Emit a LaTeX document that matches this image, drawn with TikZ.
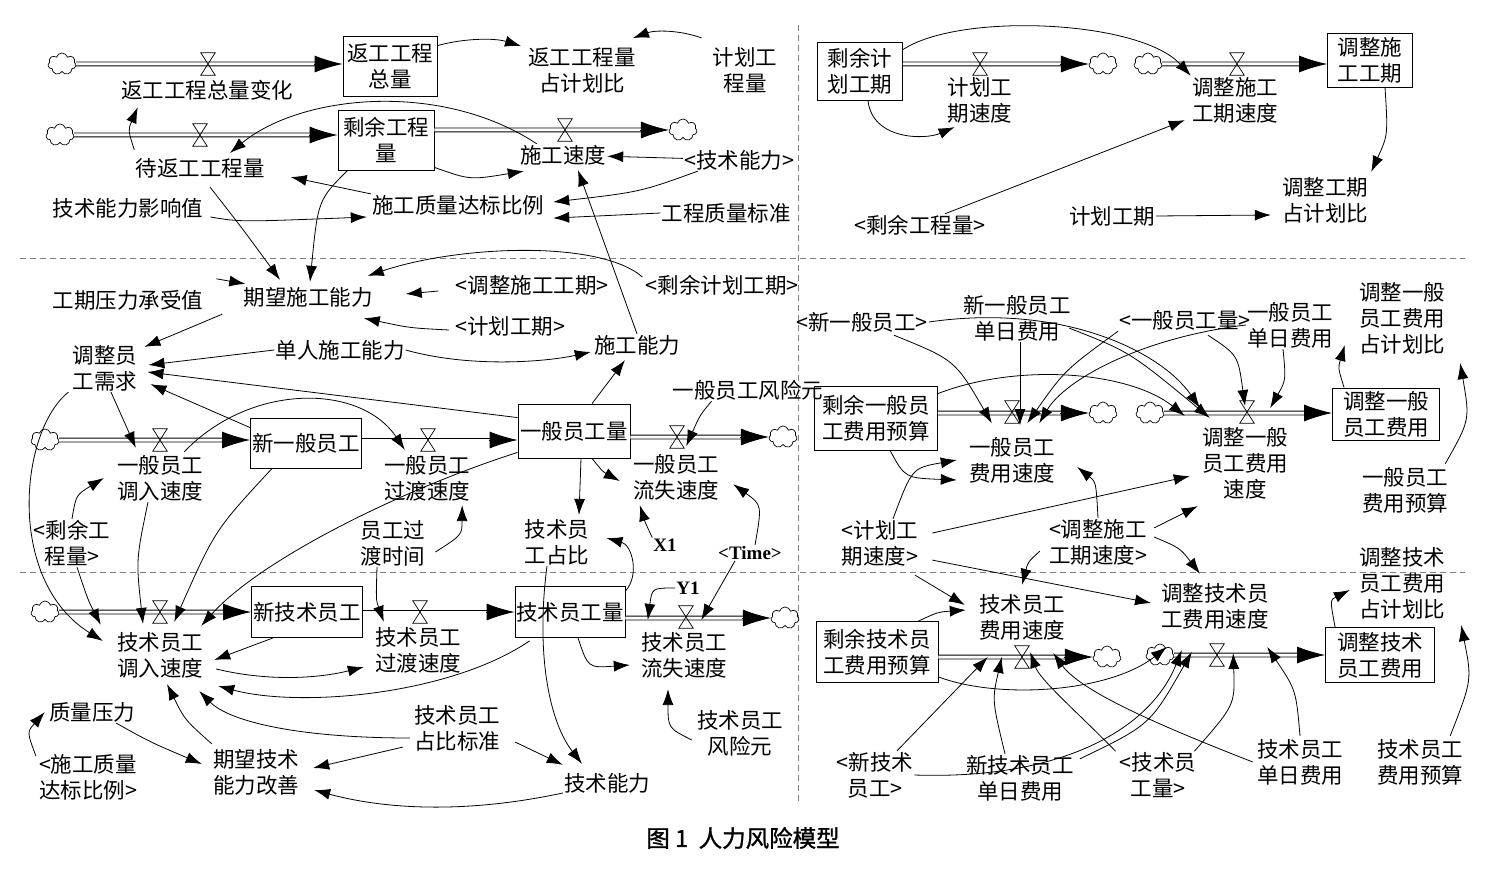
\documentclass[tikz,border=0pt]{standalone}
\usepackage{fontspec}
\setmainfont{Noto Sans CJK SC}
\newfontfamily\latfont{Liberation Serif}
\newfontfamily\capfont[FakeBold=1.2]{Noto Sans CJK SC}
\usetikzlibrary{arrows.meta,shapes.symbols,calc}
\newcommand{\mkvalve}[3]{\node[valve] (#1) at (#2,#3) {}; \draw[line width=0.7pt] (#1.north west) -- (#1.north east) -- (#1.south west) -- (#1.south east) -- cycle;}
\newcommand{\mkflow}[3]{\coordinate (#1a) at #2; \coordinate (#1b) at #3; \draw[pipe, shorten >=18pt] (#1a) -- (#1b); \draw[ptip] ($(#1b)+(-28.5,0)$) -- (#1b);}
\begin{document}
\begin{tikzpicture}[x=1pt,y=-1pt,
 var/.style={font=\fontsize{21.5}{26}\selectfont, align=center, inner sep=1pt},
 stock/.style={draw, line width=0.8pt, font=\fontsize{21.5}{26}\selectfont, align=center, inner sep=0pt},
 latn/.style={font=\latfont\bfseries\fontsize{19}{22}\selectfont, inner sep=1pt},
 cloudn/.style={cloud, draw, cloud puffs=7, aspect=1.3, minimum width=28pt, minimum height=22pt, inner sep=0pt, line width=0.7pt},
 valve/.style={minimum width=14pt, minimum height=22pt, inner sep=0pt},
 pipe/.style={double, double distance=3pt, line width=0.9pt},
 ptip/.style={-{Latex[length=28pt,width=17pt]}, line width=0.9pt},
 link/.style={-{Latex[length=16pt,width=11pt]}, line width=0.8pt},
 divider/.style={gray, dash pattern=on 6pt off 4pt, line width=0.8pt}
]
\useasboundingbox (0,0) rectangle (1500,869);
% dividers
\draw[divider] (20,258) -- (1465,258);
\draw[divider] (20,572) -- (1465,572);
\draw[divider] (798,25) -- (798,805);

% ---------- top-left
\node[cloudn] (c1) at (62,64) {};
\node[stock, minimum width=94pt, minimum height=60pt] (FG) at (390,66) {返工工程\\总量};
\node[var] (l1) at (207,90) {返工工程总量变化};
\node[cloudn] (c2) at (60,135) {};
\node[stock, minimum width=96pt, minimum height=60pt] (SY) at (386,140) {剩余工程\\量};
\node[var] (l2) at (200,168) {待返工工程量};
\node[cloudn] (c3) at (683,130) {};
\node[var] (l3) at (563,155) {施工速度};
\node[var] (fgb) at (582,70) {返工工程量\\占计划比};
\node[var] (jhg) at (745,70) {计划工\\程量};
\node[var] (jsn1) at (739,160) {<技术能力>};
\node[var] (zlb) at (458,205) {施工质量达标比例};
\node[var] (gczl) at (726,213) {工程质量标准};
\node[var] (jsyx) at (128,208) {技术能力影响值};

% ---------- top-right
\node[stock, minimum width=85pt, minimum height=58pt] (SJ) at (860,71) {剩余计\\划工期};
\node[var] (l4) at (980,100) {计划工\\期速度};
\node[cloudn] (c4) at (1103,64) {};
\node[cloudn] (c5) at (1148,64) {};
\node[var] (l5) at (1235,100) {调整施工\\工期速度};
\node[stock, minimum width=85pt, minimum height=54pt] (TZ) at (1370,60) {调整施\\工工期};
\node[var] (sygc2) at (920,225) {<剩余工程量>};
\node[var] (tzb) at (1325,200) {调整工期\\占计划比};
\node[var] (jhgq) at (1112,216) {计划工期};

% ---------- mid-left
\node[var] (qw) at (308,297) {期望施工能力};
\node[var] (gqyl) at (128,300) {工期压力承受值};
\node[var] (tzgq) at (532,285) {<调整施工工期>};
\node[var] (sjgq) at (722,285) {<剩余计划工期>};
\node[var] (jhgq2) at (510,326) {<计划工期>};
\node[var] (tzxq) at (105,368) {调整员\\工需求};
\node[var] (drn) at (340,350) {单人施工能力};
\node[var] (sgnl) at (637,345) {施工能力};
\node[cloudn] (c6) at (45,440) {};
\node[var] (l6) at (160,478) {一般员工\\调入速度};
\node[stock, minimum width=111pt, minimum height=50pt] (XY) at (306,443) {新一般员工};
\node[var] (l7) at (427,478) {一般员工\\过渡速度};
\node[stock, minimum width=112pt, minimum height=54pt] (YB) at (574,431) {一般员工量};
\node[var] (l8) at (676,477) {一般员工\\流失速度};
\node[cloudn] (c7) at (783,437) {};
\node[var] (fxy) at (748,390) {一般员工风险元};
\node[var] (sygc3) at (72,543) {<剩余工\\程量>};
\node[var] (jszb) at (557,542) {技术员\\工占比};
\node[latn] (x1) at (665,545) {X1};
\node[latn] (time1) at (750,553) {<Time>};
\node[var] (gdsj) at (393,543) {员工过\\渡时间};

% ---------- bottom-left
\node[cloudn] (c8) at (45,612) {};
\node[var] (l9) at (160,655) {技术员工\\调入速度};
\node[stock, minimum width=111pt, minimum height=51pt] (XJ) at (307,612) {新技术员工};
\node[var] (l10) at (418,650) {技术员工\\过渡速度};
\node[stock, minimum width=110pt, minimum height=51pt] (JS) at (570,612) {技术员工量};
\node[var] (l11) at (684,655) {技术员工\\流失速度};
\node[cloudn] (c9) at (785,618) {};
\node[latn] (y1) at (688,588) {Y1};
\node[var] (jfx) at (740,733) {技术员工\\风险元};
\node[var] (jzbbz) at (457,728) {技术员工\\占比标准};
\node[var] (jsnl) at (607,783) {技术能力};
\node[var] (qwjs) at (256,772) {期望技术\\能力改善};
\node[var] (zlyl) at (92,712) {质量压力};
\node[var] (sgzl2) at (88,777) {<施工质量\\达标比例>};

% ---------- mid-right
\node[var] (xyb) at (862,322) {<新一般员工>};
\node[var] (xyrf) at (1017,318) {新一般员工\\单日费用};
\node[var] (ybl) at (1185,320) {<一般员工量>};
\node[var] (ybrf) at (1290,325) {一般员工\\单日费用};
\node[var] (tzybb) at (1402,318) {调整一般\\员工费用\\占计划比};
\node[stock, minimum width=123pt, minimum height=64pt] (SYB) at (876,418) {剩余一般员\\工费用预算};
\node[var] (l12) at (1012,460) {一般员工\\费用速度};
\node[cloudn] (c10) at (1103,413) {};
\node[cloudn] (c11) at (1150,413) {};
\node[var] (l13) at (1245,463) {调整一般\\员工费用\\速度};
\node[stock, minimum width=107pt, minimum height=52pt] (TYB) at (1386,414) {调整一般\\员工费用};
\node[var] (ybys) at (1405,490) {一般员工\\费用预算};
\node[var] (jhsd) at (880,543) {<计划工\\期速度>};
\node[var] (tzsd) at (1098,542) {<调整施工\\工期速度>};

% ---------- bottom-right
\node[var] (l14) at (1022,617) {技术员工\\费用速度};
\node[stock, minimum width=122pt, minimum height=61pt] (SJB) at (877,652) {剩余技术员\\工费用预算};
\node[cloudn] (c12) at (1107,657) {};
\node[cloudn] (c13) at (1160,655) {};
\node[var] (l15) at (1215,606) {调整技术员\\工费用速度};
\node[stock, minimum width=109pt, minimum height=55pt] (TJB) at (1380,655) {调整技术\\员工费用};
\node[var] (tzjb) at (1402,583) {调整技术\\员工费用\\占计划比};
\node[var] (jsys) at (1420,762) {技术员工\\费用预算};
\node[var] (jsrf) at (1300,762) {技术员工\\单日费用};
\node[var] (xjs) at (875,775) {<新技术\\员工>};
\node[var] (xjrf) at (1020,778) {新技术员工\\单日费用};
\node[var] (jsl) at (1158,775) {<技术员\\工量>};

\node[font=\capfont\fontsize{23.5}{28}\selectfont] (cap) at (743,838) {图 1\ \ 人力风险模型};

% ---------- flows
\mkflow{p1}{(c1.east)}{(FG.west |- c1)}
\mkflow{p2}{(c2.east)}{(SY.west |- c2)}
\mkflow{p3}{(SY.east |- c3)}{(c3.west)}
\mkflow{p4}{(SJ.east |- c4)}{(c4.west)}
\mkflow{p5}{(c5.east)}{(TZ.west |- c5)}
\mkflow{p6}{(c6.east)}{(XY.west |- c6)}
\mkflow{p7}{(XY.east |- c6)}{(YB.west |- c6)}
\mkflow{p8}{(YB.east |- c7)}{(c7.west)}
\mkflow{p9}{(c8.east)}{(XJ.west |- c8)}
\mkflow{p10}{(XJ.east |- c8)}{(JS.west |- c8)}
\mkflow{p11}{(JS.east |- c9)}{(c9.west)}
\mkflow{p12}{(SYB.east |- c10)}{(c10.west)}
\mkflow{p13}{(c11.east)}{(TYB.west |- c11)}
\mkflow{p14}{(SJB.east |- c12)}{(c12.west)}
\mkflow{p15}{(c13.east)}{(TJB.west |- c13)}

% ---------- valves
\mkvalve{v1}{208}{64}
\mkvalve{v2}{200}{135}
\mkvalve{v3}{565}{130}
\mkvalve{v4}{980}{64}
\mkvalve{v5}{1237}{64}
\mkvalve{v6}{160}{440}
\mkvalve{v7}{428}{440}
\mkvalve{v8}{677}{437}
\mkvalve{v9}{160}{612}
\mkvalve{v10}{420}{612}
\mkvalve{v11}{686}{617}
\mkvalve{v12}{1012}{412}
\mkvalve{v13}{1247}{412}
\mkvalve{v14}{1022}{657}
\mkvalve{v15}{1217}{655}

% ---------- links top-left
\draw[link] ($(FG.north east)+(0,10)$) .. controls (465,38) and (495,38) .. ($(fgb.north west)+(-6,0)$);
\draw[link] ($(jhg.north west)+(-10,-8)$) .. controls (680,30) and (655,30) .. ($(fgb.north east)+(-4,-8)$);
\draw[link] ($(l2.north west)+(0,-7)$) .. controls (128,130) .. ($(l1.south west)+(18,6)$);
\draw[link] ($(l3.north west)+(18,0)$) .. controls (440,80) and (300,95) .. ($(l2.north)+(30,-4)$);
\draw[link] ($(SY.south east)+(0,-3)$) .. controls (470,180) .. ($(l3.south west)+(5,5)$);
\draw[link] (jsn1) -- (l3);
\draw[link] ($(jsn1.south west)+(15,0)$) .. controls (640,192) .. ($(zlb.east)+(8,-3)$);
\draw[link] (gczl.west) -- ($(zlb.south east)+(8,2)$);
\draw[link] ($(jsyx.east)+(6,9)$) .. controls (240,222) .. ($(zlb.west)+(-4,12)$);
\draw[link] (zlb.north west) -- ($(l2.south east)+(25,-2)$);
\draw[link] (sgnl.north) -- ($(l3.south)+(15,4)$);
\draw[link] ($(l2.south)+(10,8)$) .. controls (242,228) .. ($(qw.north)+(-28,-6)$);
\draw[link] ($(SY.south west)+(10,0)$) .. controls (318,200) .. ($(qw.north)+(2,-4)$);

% ---------- links top-right
\draw[link] ($(SJ.north east)+(0,8)$) .. controls (960,12) and (1140,20) .. (l5.north west);
\draw[link] ($(SJ.south)+(8,0)$) .. controls (872,140) and (925,140) .. ($(l4.south west)+(8,3)$);
\draw[link] ($(sygc2.north)+(25,0)$) -- ($(l5.south west)+(-6,-4)$);
\draw[link] ($(TZ.south)+(15,0)$) .. controls (1388,135) .. ($(tzb.north east)+(2,-4)$);
\draw[link] (jhgq.east) -- ($(tzb.west)+(-10,15)$);

% ---------- links mid-left
\draw[link] ($(gqyl.north east)+(12,-10)$) -- ($(qw.north west)+(3,-2)$);
\draw[link] ($(tzgq.west)+(-16,6)$) -- ($(qw.east)+(32,-3)$);
\draw[link] ($(sjgq.west)+(-2,-8)$) .. controls (600,240) and (460,245) .. ($(qw.north east)+(-6,-10)$);
\draw[link] ($(jhgq2.west)+(-5,4)$) .. controls (410,328) .. ($(qw.south east)+(-10,10)$);
\draw[link] ($(qw.south west)+(-20,6)$) -- ($(tzxq.north east)+(6,3)$);
\draw[link] (drn.west) -- ($(tzxq.east)+(10,-3)$);
\draw[link] (drn.east) .. controls (470,368) and (545,362) .. ($(sgnl.west)+(-2,7)$);
\draw[link] ($(YB.north)+(18,0)$) -- ($(sgnl.south)+(-12,4)$);
\draw[link] ($(YB.north west)+(0,14)$) -- ($(tzxq.east)+(9,4)$);
\draw[link] ($(XY.north west)+(0,10)$) -- ($(tzxq.south east)+(12,-8)$);
\draw[link] ($(tzxq.south)+(6,0)$) -- ($(l6.north west)+(20,-6)$);
\draw[link] ($(tzxq.south west)+(-3,0)$) .. controls (20,430) and (5,580) .. ($(l9.west)+(-13,-14)$);
\draw[link] ($(l6.north east)+(-20,-2)$) .. controls (250,383) and (360,383) .. ($(l7.north west)+(22,-4)$);
\draw[link] ($(fxy.south west)+(40,0)$) .. controls (700,415) .. ($(v8.south east)+(2,-2)$);
\draw[link] ($(YB.south)+(18,0)$) .. controls (603,472) .. ($(l8.west)+(-12,4)$);
\draw[link] ($(YB.south)+(7,0)$) -- ($(jszb.north)+(22,-3)$);
\draw[link] (x1.north west) .. controls (645,522) .. ($(l8.south west)+(8,4)$);
\draw[link] ($(time1.north)+(5,0)$) .. controls (762,505) .. ($(l8.south east)+(13,-17)$);
\draw[link] ($(gdsj.east)+(9,9)$) .. controls (462,535) .. ($(l7.south east)+(-9,3)$);
\draw[link] (sygc3.north) .. controls (76,495) .. ($(l6.west)+(-12,0)$);
\draw[link] ($(sygc3.south)+(5,0)$) .. controls (88,600) .. ($(l9.north west)+(-15,-6)$);
\draw[link] ($(l6.south)+(-12,0)$) .. controls (136,560) .. ($(l9.north)+(-17,-7)$);
\draw[link] ($(XY.south west)+(22,0)$) .. controls (215,530) .. ($(l9.north east)+(-30,-9)$);
\draw[link] ($(YB.south west)+(0,-6)$) .. controls (400,490) and (260,560) .. ($(l9.north east)+(-3,-5)$);

% ---------- links bottom-left
\draw[link] ($(XJ.south west)+(22,0)$) -- ($(l9.east)+(10,5)$);
\draw[link] ($(l9.east)+(12,14)$) .. controls (270,682) and (320,678) .. ($(l10.west)+(-10,17)$);
\draw[link] ($(JS.south west)+(15,3)$) .. controls (450,695) and (300,708) .. ($(l9.east)+(14,31)$);
\draw[link] ($(jzbbz.west)+(-3,10)$) .. controls (300,738) and (230,722) .. ($(l9.south east)+(-5,12)$);
\draw[link] ($(qwjs.north west)+(0,-4)$) .. controls (185,720) .. ($(l9.south)+(7,5)$);
\draw[link] ($(gdsj.south)+(-16,0)$) .. controls (376,600) .. ($(l10.north west)+(10,-4)$);
\draw[link] (y1.west) .. controls (652,588) .. ($(l11.north west)+(8,-11)$);
\draw[link] ($(time1.south)+(-15,0)$) -- ($(v11.east)+(8,3)$);
\draw[link] ($(JS.south)+(8,0)$) .. controls (588,668) .. ($(l11.west)+(-10,10)$);
\draw[link] ($(jfx.west)+(-4,7)$) .. controls (668,728) .. ($(l11.south)+(-16,10)$);
\draw[link] ($(jzbbz.south west)+(-10,-5)$) -- ($(qwjs.east)+(13,-4)$);
\draw[link] ($(jzbbz.south east)+(14,-10)$) -- ($(jsnl.north west)+(0,-7)$);
\draw[link] ($(jszb.south)+(-10,0)$) .. controls (536,650) and (548,720) .. ($(jsnl.north)+(-25,-8)$);
\draw[link] ($(JS.north east)+(0,5)$) .. controls (640,575) and (632,545) .. ($(jszb.east)+(16,-4)$);
\draw[link] ($(jsnl.west)+(0,10)$) .. controls (460,815) and (380,808) .. ($(qwjs.east)+(14,18)$);
\draw[link] ($(zlyl.south east)+(-20,0)$) .. controls (150,742) .. ($(qwjs.west)+(-10,-8)$);
\draw[link] ($(sgzl2.north west)+(-2,3)$) .. controls (27,732) .. ($(zlyl.west)+(-3,0)$);

% ---------- links mid-right
\draw[link] ($(xyb.south east)+(-35,2)$) .. controls (955,360) .. ($(v12.south west)+(-13,0)$);
\draw[link] ($(xyrf.south)+(3,0)$) -- ($(v12.south)+(8,2)$);
\draw[link] (ybl.south west) .. controls (1065,370) .. ($(v12.south east)+(8,0)$);
\draw[link] (ybrf.west) .. controls (1140,338) and (1065,380) .. ($(v12.south east)+(20,0)$);
\draw[link] (xyb.east) .. controls (1060,303) and (1160,350) .. ($(l13.north west)+(-1,-18)$);
\draw[link] ($(xyrf.east)+(-3,10)$) .. controls (1130,352) .. ($(l13.north west)+(9,-8)$);
\draw[link] ($(SYB.north east)+(0,8)$) .. controls (1020,362) and (1130,372) .. ($(l13.north west)+(-16,-10)$);
\draw[link] ($(ybl.south east)+(-44,4)$) .. controls (1238,355) .. ($(v13.center)+(-2,-6)$);
\draw[link] ($(ybrf.south)+(-7,0)$) .. controls (1286,380) .. ($(v13.east)+(16,-4)$);
\draw[link] ($(jhsd.north)+(13,0)$) .. controls (912,468) .. ($(l12.west)+(-11,0)$);
\draw[link] ($(SYB.south)+(14,0)$) .. controls (905,478) .. ($(l12.west)+(-11,20)$);
\draw[link] (tzsd.north) .. controls (1096,482) .. ($(l12.east)+(21,7)$);
\draw[link] ($(jhsd.east)+(13,-10)$) -- ($(l13.south west)+(-11,-24)$);
\draw[link] ($(tzsd.north east)+(6,10)$) -- ($(l13.south west)+(-3,6)$);
\draw[link] ($(tzsd.east)+(6,-5)$) .. controls (1180,548) .. ($(l15.north west)+(40,-8)$);
\draw[link] ($(tzsd.south west)+(-8,-15)$) .. controls (1028,562) .. ($(l14.north)+(0,-8)$);
\draw[link] ($(jhsd.south east)+(13,-7)$) -- ($(l15.west)+(-9,-3)$);
\draw[link] ($(jhsd.south)+(35,8)$) -- ($(l14.west)+(-13,-12)$);
\draw[link] ($(TYB.north west)+(12,0)$) .. controls (1338,368) .. ($(tzybb.west)+(-13,27)$);
\draw[link] ($(ybys.north east)+(-4,-2)$) .. controls (1470,420) .. ($(tzybb.south east)+(14,8)$);

% ---------- links bottom-right
\draw[link] ($(SJB.north east)+(-20,0)$) .. controls (938,612) .. ($(l14.west)+(-12,-7)$);
\draw[link] ($(TJB.north west)+(10,0)$) .. controls (1330,600) .. ($(tzjb.west)+(-8,7)$);
\draw[link] ($(jsys.north east)+(-14,-2)$) .. controls (1472,680) .. ($(tzjb.south east)+(15,5)$);
\draw[link] ($(jsrf.north)+(0,-2)$) .. controls (1296,690) .. ($(v15.east)+(43,-8)$);
\draw[link] ($(jsrf.west)+(-3,0)$) .. controls (1150,722) and (1080,690) .. ($(v14.east)+(24,-4)$);
\draw[link] ($(xjs.north)+(22,0)$) -- ($(v14.west)+(-27,0)$);
\draw[link] ($(xjrf.north)+(-15,0)$) .. controls (992,700) .. ($(v14.west)+(-13,0)$);
\draw[link] ($(jsl.north west)+(-3,0)$) .. controls (1075,710) and (1040,680) .. ($(v14.east)+(1,-5)$);
\draw[link] (xjs.east) .. controls (1060,780) and (1150,730) .. ($(v15.west)+(-28,-5)$);
\draw[link] ($(xjrf.north east)+(5,5)$) .. controls (1150,725) .. ($(v15.west)+(-18,-3)$);
\draw[link] ($(SJB.south east)+(0,-6)$) .. controls (1000,700) and (1110,692) .. ($(v15.west)+(-43,-8)$);
\draw[link] ($(jsl.north east)+(-3,0)$) .. controls (1235,705) .. ($(v15.east)+(9,-2)$);
\end{tikzpicture}
\end{document}
